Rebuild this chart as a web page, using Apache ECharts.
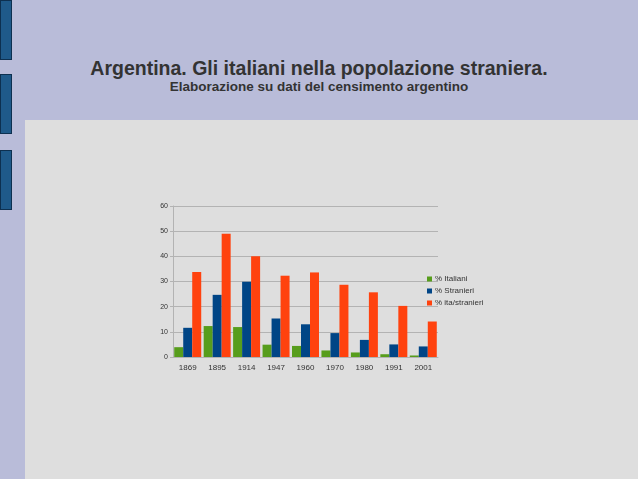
<!DOCTYPE html><html><head><meta charset="utf-8"><script src="https://cdn.jsdelivr.net/npm/echarts@6/dist/echarts.min.js"></script>
<style>body{margin:0;width:638px;height:479px;position:relative;background:#b9bcd9;font-family:'Liberation Sans',Arial,sans-serif;overflow:hidden}
#bg{position:absolute;left:25px;top:120px;width:613px;height:359px;background:#dedede}
.sq{position:absolute;left:0;width:10px;height:58px;background:#1f5a8a;border:1px solid #0d3050}
#c{position:absolute;left:0;top:0;width:638px;height:479px}
h1{position:absolute;top:57px;left:0;width:638px;text-align:center;margin:0;font-size:19.5px;font-weight:bold;color:#333}
h2{position:absolute;top:79px;left:0;width:638px;text-align:center;margin:0;font-size:13.5px;font-weight:bold;color:#333}
</style></head><body>
<div id="bg"></div><div class="sq" style="top:0"></div><div class="sq" style="top:74px"></div><div class="sq" style="top:150px"></div>
<h1>Argentina. Gli italiani nella popolazione straniera.</h1>
<h2>Elaborazione su dati del censimento argentino</h2>
<div id="c"></div>
<script>
const categories=['1869','1895','1914','1947','1960','1970','1980','1991','2001'];
const italiani=[3.9,12.3,11.9,4.9,4.4,2.6,1.8,1.1,0.6];
const stranieri=[11.6,24.7,29.9,15.3,13.0,9.5,6.8,5.0,4.2];
const itaStranieri=[33.8,49.0,40.0,32.3,33.6,28.7,25.7,20.3,14.1];
const ch=echarts.init(document.getElementById('c'));
ch.setOption({animation:false,
grid:{left:173,right:200,top:206,bottom:122},
legend:{orient:'vertical',left:422,top:270,itemWidth:5,itemHeight:5,itemGap:4,icon:'rect',textStyle:{fontSize:8,color:'#333',padding:[0,0,0,-2]},data:['% Italiani','% Stranieri','% ita/stranieri']},
xAxis:{type:'category',data:categories,axisLine:{lineStyle:{color:'#b3b3b3'}},axisTick:{length:16,lineStyle:{color:'#b3b3b3'}},axisLabel:{fontSize:8,color:'#333',margin:7}},
yAxis:{type:'value',min:0,max:60,interval:10,axisLine:{show:true,lineStyle:{color:'#b3b3b3'}},axisTick:{show:true,length:3,lineStyle:{color:'#b3b3b3'}},axisLabel:{fontSize:7,color:'#333',margin:5},splitLine:{lineStyle:{color:'#b3b3b3'}}},
series:[
{name:'% Italiani',type:'bar',data:italiani,itemStyle:{color:'#579d1c'},barWidth:9,barGap:'0%'},
{name:'% Stranieri',type:'bar',data:stranieri,itemStyle:{color:'#004586'},barWidth:9,barGap:'0%'},
{name:'% ita/stranieri',type:'bar',data:itaStranieri,itemStyle:{color:'#ff420e'},barWidth:9,barGap:'0%'}]});
</script></body></html>
